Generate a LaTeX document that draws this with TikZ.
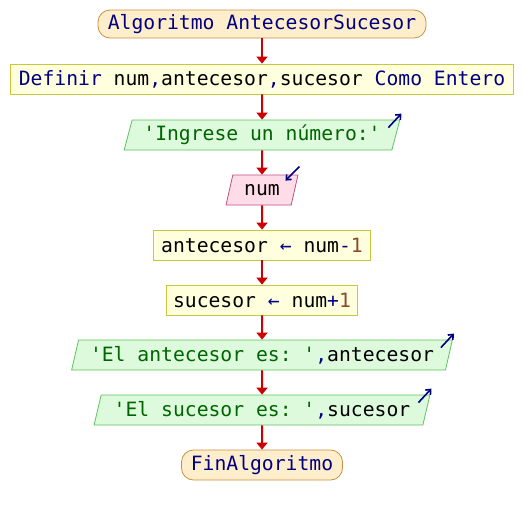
\documentclass[tikz,border=0pt]{standalone}
\usepackage{fontspec}
\setmonofont{DejaVu Sans Mono}
\usetikzlibrary{shapes.geometric,arrows.meta,calc}

\definecolor{kw}{HTML}{000080}
\definecolor{strc}{HTML}{006400}
\definecolor{numc}{HTML}{8B4A2B}
\definecolor{flow}{HTML}{CC0000}
\definecolor{termfill}{HTML}{FFEECC}
\definecolor{termdraw}{HTML}{C89040}
\definecolor{procfill}{HTML}{FFFFDD}
\definecolor{procdraw}{HTML}{C8C840}
\definecolor{outfill}{HTML}{DDFADD}
\definecolor{outdraw}{HTML}{60C060}
\definecolor{infill}{HTML}{FFDDE8}
\definecolor{indraw}{HTML}{C05080}

\newcommand{\kwd}[1]{\textcolor{kw}{#1}}
\newcommand{\strv}[1]{\textcolor{strc}{#1}}
\newcommand{\numv}[1]{\textcolor{numc}{#1}}

\begin{document}
\begin{tikzpicture}[x=1pt,y=-1pt,
  every node/.style={font=\ttfamily\fontsize{19.7}{22}\selectfont, inner sep=0pt, line width=0.8pt},
  term/.style={rectangle, rounded corners=12pt, draw=termdraw, fill=termfill, minimum height=28pt},
  proc/.style={rectangle, draw=procdraw, fill=procfill, minimum height=30pt},
  outbox/.style={trapezium, trapezium left angle=70, trapezium right angle=110, trapezium stretches=true,
                 draw=outdraw, fill=outfill, minimum height=30pt},
  inbox/.style={trapezium, trapezium left angle=70, trapezium right angle=110, trapezium stretches=true,
                draw=indraw, fill=infill, minimum height=30pt},
  flowline/.style={draw=flow, line width=2pt, -{Triangle[length=7pt,width=11pt]}},
  ioarrow/.style={draw=kw, line width=1.6pt, -{Straight Barb[length=4pt,width=7pt]}}
]
\useasboundingbox (0,0) rectangle (524,515);

\node[term, minimum width=328pt] (start) at (262,24) {\kwd{Algoritmo AntecesorSucesor}};
\node[proc, minimum width=503pt] (def) at (262,79) {\kwd{Definir} num\kwd{,}antecesor\kwd{,}sucesor \kwd{Como Entero}};
\node[outbox, minimum width=276pt] (ask) at (262,135) {\strv{'Ingrese un número:'}};
\node[inbox, minimum width=72pt] (read) at (262,190) {num};
\node[proc, minimum width=217pt] (prev) at (262,245) {antecesor \kwd{←} num\kwd{-}\numv{1}};
\node[proc, minimum width=191pt] (next) at (262,300) {sucesor \kwd{←} num\kwd{+}\numv{1}};
\node[outbox, minimum width=382pt] (showprev) at (262,355) {\strv{'El antecesor es: '}\kwd{,}antecesor};
\node[outbox, minimum width=337pt] (shownext) at (262,410) {\strv{'El sucesor es: '}\kwd{,}sucesor};
\node[term, minimum width=161pt, minimum height=30pt] (stop) at (262,465) {\kwd{FinAlgoritmo}};

\foreach \a/\b in {start/def, def/ask, ask/read, read/prev, prev/next, next/showprev, showprev/shownext, shownext/stop}
  \draw[flowline] (\a.south) -- (\b.north);

% output and input markers
\foreach \n in {ask, showprev, shownext}
  \draw[ioarrow] ($(\n.top right corner)+(-12,8)$) -- ($(\n.top right corner)+(1,-6)$);
\draw[ioarrow] ($(read.top right corner)+(1,-8)$) -- ($(read.top right corner)+(-13,6)$);
\end{tikzpicture}
\end{document}
